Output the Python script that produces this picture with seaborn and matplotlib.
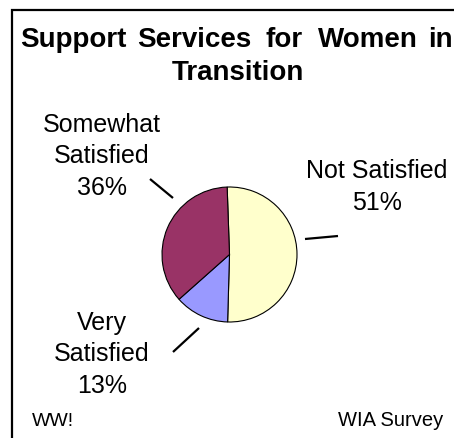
import matplotlib
matplotlib.use("Agg")
import matplotlib.pyplot as plt
import seaborn as sns
from matplotlib.patches import Rectangle

# ---- data ----
categories = ["Not Satisfied", "Very Satisfied", "Somewhat Satisfied"]
label_lines = [["Not Satisfied"], ["Very", "Satisfied"], ["Somewhat", "Satisfied"]]
values = [51, 13, 36]
colors = ["#FFFFCC", "#9999FF", "#993366"]
title_words = ["Support", "Services", "for", "Women", "in"]
title_line2 = "Transition"
footer_left = "WW!"
footer_right = "WIA Survey"

# ---- layout (pixel coordinates, y measured from top) ----
W, H = 454, 438
pie_center = (229.5, 254.5)
pie_radius = 67.5
title_word_x = [20, 137, 265, 318, 428]
# anchor = (center x, baseline of last line)
label_anchor = [(377, 210), (102, 393), (102, 195)]
leader = [((305, 239), (338, 236)), ((173, 352), (199, 328)), ((150, 179), (173, 198))]

sns.set_theme(style="white")
plt.rcParams["font.family"] = ["Liberation Sans", "DejaVu Sans"]

fig = plt.figure(figsize=(W / 100, H / 100), dpi=100)
ax = fig.add_axes([0, 0, 1, 1])

def Y(v):
    return H - v

# pie
ax.pie(values, colors=colors, startangle=92, counterclock=False,
       center=(pie_center[0], Y(pie_center[1])), radius=pie_radius,
       wedgeprops=dict(edgecolor="black", linewidth=0.8), frame=True)
ax.set_xlim(0, W)
ax.set_ylim(0, H)
ax.set_aspect("equal")
ax.axis("off")

# border
ax.add_patch(Rectangle((12, Y(H + 20)), W + 20, H + 20 - 10, fill=False,
                       edgecolor="black", linewidth=1.6, clip_on=True))

# title
for word, x in zip(title_words, title_word_x):
    ax.text(x, Y(47), word, ha="left", va="baseline", fontsize=20,
            fontweight="bold", color="black")
ax.text(237.5, Y(80), title_line2, ha="center", va="baseline", fontsize=20,
        fontweight="bold", color="black")

# labels
total = sum(values)
for lines, v, (lx, ly), (p0, p1) in zip(label_lines, values, label_anchor, leader):
    txt = "\n".join(lines + [f"{round(100 * v / total)}%"])
    ax.text(lx, Y(ly), txt, ha="center", va="baseline", fontsize=18,
            linespacing=1.4, color="black")
    ax.plot([p0[0], p1[0]], [Y(p0[1]), Y(p1[1])], color="black", lw=1.6,
            solid_capstyle="butt")

# footer
ax.text(32, Y(426), footer_left, ha="left", va="baseline", fontsize=14, color="black")
ax.text(443, Y(426), footer_right, ha="right", va="baseline", fontsize=14.5, color="black")

fig.savefig("out.png", dpi=100)
